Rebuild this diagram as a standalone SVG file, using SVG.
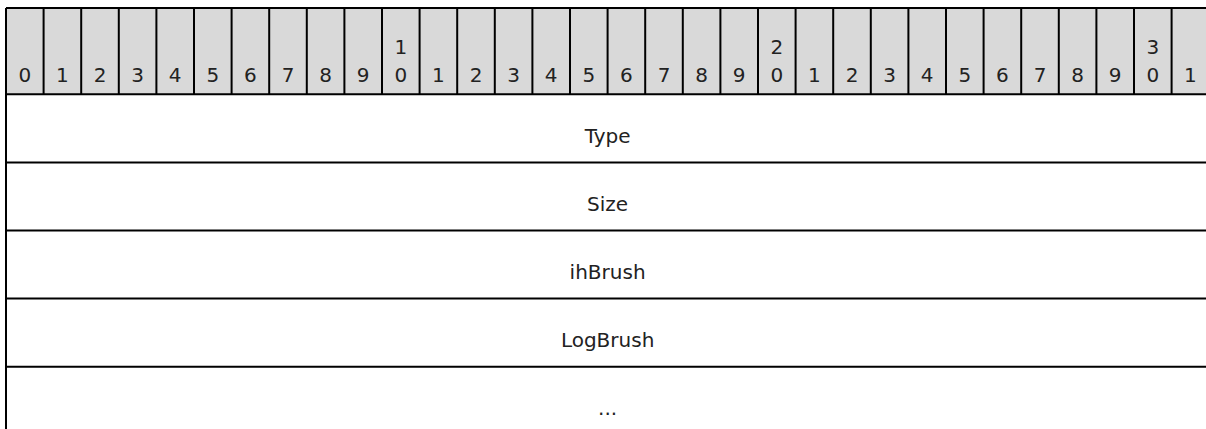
<svg xmlns="http://www.w3.org/2000/svg" width="1206" height="429" viewBox="0 0 1206 429">
<style>
.hdr{fill:#d9d9d9;stroke:none}
.ln{stroke:#000;stroke-width:2;fill:none}
.num{font-family:"DejaVu Sans",Verdana,sans-serif;font-size:20px;fill:#222;text-anchor:middle}
.lbl{font-family:"DejaVu Sans",Verdana,sans-serif;font-size:20px;fill:#222;text-anchor:middle}
</style>
<rect width="1206" height="429" fill="#fff"/>
<g id="header">
<rect class="hdr" x="6" y="8" width="1204" height="86.3"/>
<g id="bits">
<text class="num" x="24.8" y="82">0</text>
<text class="num" x="62.4" y="82">1</text>
<text class="num" x="100" y="82">2</text>
<text class="num" x="137.6" y="82">3</text>
<text class="num" x="175.2" y="82">4</text>
<text class="num" x="212.8" y="82">5</text>
<text class="num" x="250.4" y="82">6</text>
<text class="num" x="288" y="82">7</text>
<text class="num" x="325.6" y="82">8</text>
<text class="num" x="363.2" y="82">9</text>
<text class="num" x="400.8" y="54">1</text><text class="num" x="400.8" y="82">0</text>
<text class="num" x="438.4" y="82">1</text>
<text class="num" x="476" y="82">2</text>
<text class="num" x="513.6" y="82">3</text>
<text class="num" x="551.2" y="82">4</text>
<text class="num" x="588.8" y="82">5</text>
<text class="num" x="626.4" y="82">6</text>
<text class="num" x="664" y="82">7</text>
<text class="num" x="701.6" y="82">8</text>
<text class="num" x="739.2" y="82">9</text>
<text class="num" x="776.8" y="54">2</text><text class="num" x="776.8" y="82">0</text>
<text class="num" x="814.4" y="82">1</text>
<text class="num" x="852" y="82">2</text>
<text class="num" x="889.6" y="82">3</text>
<text class="num" x="927.2" y="82">4</text>
<text class="num" x="964.8" y="82">5</text>
<text class="num" x="1002.4" y="82">6</text>
<text class="num" x="1040" y="82">7</text>
<text class="num" x="1077.6" y="82">8</text>
<text class="num" x="1115.2" y="82">9</text>
<text class="num" x="1152.8" y="54">3</text><text class="num" x="1152.8" y="82">0</text>
<text class="num" x="1190.4" y="82">1</text>
</g>
</g>
<g id="field-type"><text class="lbl" x="607.6" y="142.5">Type</text></g>
<g id="field-size"><text class="lbl" x="607.6" y="210.6">Size</text></g>
<g id="field-ihbrush"><text class="lbl" x="607.6" y="278.7">ihBrush</text></g>
<g id="field-logbrush"><text class="lbl" x="607.6" y="346.8">LogBrush</text></g>
<g id="field-more"><text class="lbl" x="607.6" y="414.9">...</text></g>
<g id="connectors">
<path class="ln" d="M6,8 H1210 M6,8 V429 M6,94.3 H1210 M6,162.4 H1210 M6,230.5 H1210 M6,298.6 H1210 M6,366.7 H1210"/>
<path class="ln" d="M43.6,8 V94.3 M81.2,8 V94.3 M118.8,8 V94.3 M156.4,8 V94.3 M194,8 V94.3 M231.6,8 V94.3 M269.2,8 V94.3 M306.8,8 V94.3 M344.4,8 V94.3 M382,8 V94.3 M419.6,8 V94.3 M457.2,8 V94.3 M494.8,8 V94.3 M532.4,8 V94.3 M570,8 V94.3 M607.6,8 V94.3 M645.2,8 V94.3 M682.8,8 V94.3 M720.4,8 V94.3 M758,8 V94.3 M795.6,8 V94.3 M833.2,8 V94.3 M870.8,8 V94.3 M908.4,8 V94.3 M946,8 V94.3 M983.6,8 V94.3 M1021.2,8 V94.3 M1058.8,8 V94.3 M1096.4,8 V94.3 M1134,8 V94.3 M1171.6,8 V94.3"/>
</g>
</svg>
